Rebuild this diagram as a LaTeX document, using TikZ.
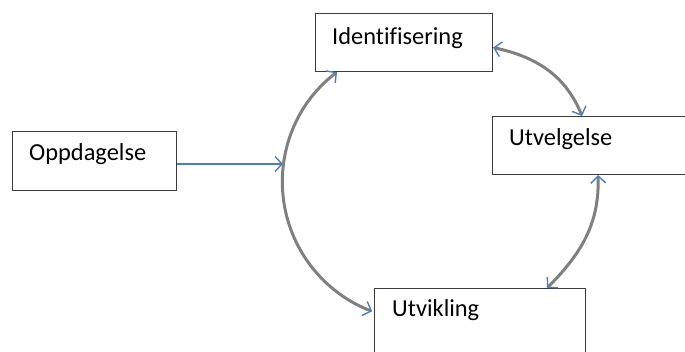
\documentclass[tikz,border=0pt]{standalone}
\usepackage{fontspec}
\setmainfont{Carlito}[Ligatures=CommonOff]
\usepackage{tikz}
\usetikzlibrary{arrows.meta,positioning}
\usepackage{xcolor}
\definecolor{tipblue}{RGB}{74,126,190}
\definecolor{arcgray}{RGB}{128,128,128}
\definecolor{edge}{RGB}{60,60,60}
\tikzset{
  stage/.style={draw=edge, line width=1.1pt, fill=white, anchor=north west, inner sep=0pt},
  txt/.style={anchor=base west, font=\fontsize{24.4}{28}\selectfont, inner sep=0pt},
  feed/.style={-{Straight Barb[length=7pt, width=15pt, line width=1.4pt]}, line width=1.4pt, tipblue},
  cyc/.style={{Straight Barb[length=7pt, width=15pt, line width=1.4pt, color=tipblue]}-{Straight Barb[length=7pt, width=15pt, line width=1.4pt, color=tipblue]}, line width=3pt, arcgray},
}
\begin{document}
\begin{tikzpicture}[x=1pt,y=1pt]
  \useasboundingbox (0,0) rectangle (685,-352);
  \clip (0,0) rectangle (685,-352);
  % boxes
  \node[stage, minimum width=164pt, minimum height=59pt] (opp) at (12,-131) {};
  \node[stage, minimum width=177pt, minimum height=58pt] (ident) at (315,-13) {};
  \node[stage, minimum width=195pt, minimum height=58pt] (utvel) at (492,-116) {};
  \node[stage, minimum width=211pt, minimum height=90pt] (utvik) at (374,-288) {};
  \node[txt] (opptxt) at (29,-161) {Oppdagelse};
  \node[txt] (identtxt) at (332,-45) {Identifisering};
  \node[txt] (utveltxt) at (509,-146) {Utvelgelse};
  \node[txt] (utviktxt) at (392,-317) {Utvikling};
  % arrows
  \coordinate (hit) at (283,-164);
  \draw[feed] (opp.east |- hit) -- (hit);
  \draw[cyc] ([xshift=22pt]ident.south west) arc[start angle=127.2, end angle=249.5, radius=138pt];
  \draw[cyc] ([yshift=-5pt]ident.east) to[out=-12,in=112] ([xshift=90pt]utvel.north west);
  \draw[cyc] ([xshift=106pt]utvel.south west) to[out=-88,in=45] ([xshift=173pt]utvik.north west);
\end{tikzpicture}
\end{document}
